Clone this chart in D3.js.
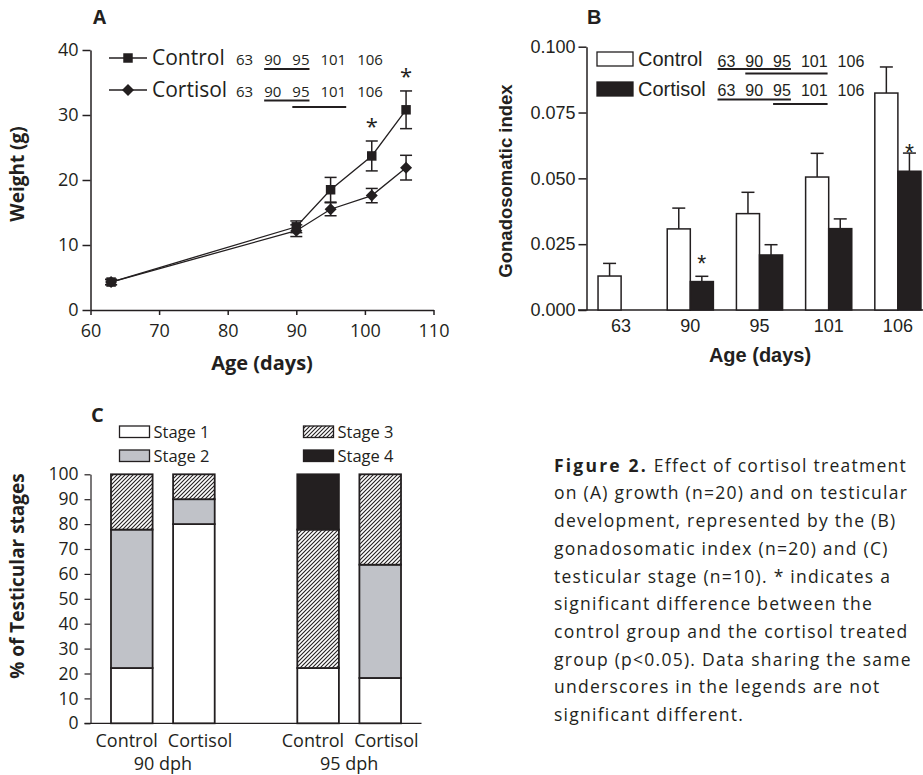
<!DOCTYPE html>
<html>
<head>
<meta charset="utf-8">
<script src="https://cdn.jsdelivr.net/npm/d3@7"></script>
<style>
  body { margin: 0; background: #fff; }
  svg text { fill: #231f20; }
  .fr { font-family: "Open Sans", sans-serif; }
  .ar { font-family: "Liberation Sans", Arial, sans-serif; }
</style>
</head>
<body>
<svg id="fig" width="923" height="775"></svg>
<script>
// ---- panel A: weight ----
var ages = [63, 90, 95, 101, 106];
var controlWeight = [4.3, 12.8, 18.5, 23.7, 30.8];
var controlWeightErr = [0.4, 0.9, 1.9, 2.3, 2.9];
var cortisolWeight = [4.3, 12.2, 15.5, 17.6, 21.9];
var cortisolWeightErr = [0.4, 0.9, 1.0, 1.1, 1.9];
var weightStars = [101, 106];
var weightTicksX = [60, 70, 80, 90, 100, 110];
var weightTicksY = [0, 10, 20, 30, 40];
// ages sharing an underline are not different
var weightLinesControl = [[90, 95]];
var weightLinesCortisol = [[90, 95], [95, 101]];

// ---- panel B: gonadosomatic index ----
var gsiControl = [0.0129, 0.0308, 0.0366, 0.0505, 0.0824];
var gsiControlErr = [0.0048, 0.0079, 0.0081, 0.0090, 0.0099];
var gsiCortisol = [0, 0.0108, 0.0209, 0.0309, 0.0527];
var gsiCortisolErr = [0, 0.0020, 0.0039, 0.0037, 0.0069];
var gsiStars = [90, 106];
var gsiTicks = [0, 0.025, 0.05, 0.075, 0.1];
var gsiLinesControl = [[63, 95], [90, 101]];
var gsiLinesCortisol = [[63, 95], [95, 101]];

// ---- panel C: testicular stages (%) ----
var stageBars = ["c90", "t90", "gap", "c95", "t95"];
var stageBarLabels = ["Control", "Cortisol", "", "Control", "Cortisol"];
var stageDays = ["90 dph", "95 dph"];
var stageNames = ["Stage 1", "Stage 2", "Stage 3", "Stage 4"];
var stage1 = [22.2, 80, 0, 22.2, 18.2];
var stage2 = [55.6, 10, 0, 0, 45.5];
var stage3 = [22.2, 10, 0, 55.6, 36.3];
var stage4 = [0, 0, 0, 22.2, 0];
var stageTicks = [0, 10, 20, 30, 40, 50, 60, 70, 80, 90, 100];

var captionLines = [
  "on (A) growth (n=20) and on testicular",
  "development, represented by the (B)",
  "gonadosomatic index (n=20) and (C)",
  "testicular stage (n=10). * indicates a",
  "significant difference between the",
  "control group and the cortisol treated",
  "group (p<0.05). Data sharing the same",
  "underscores in the legends are not",
  "significant different."
];

var ink = "#231f20";
var svg = d3.select("#fig");
var defs = svg.append("defs");
var hatch = defs.append("pattern")
    .attr("id", "hatch")
    .attr("patternUnits", "userSpaceOnUse")
    .attr("width", 4).attr("height", 4);
hatch.append("rect").attr("width", 4).attr("height", 4).attr("fill", "#fff");
hatch.append("path")
    .attr("d", "M-1,1l2,-2M0,4l4,-4M3,5l2,-2")
    .attr("stroke", ink).attr("stroke-width", 1.1);

function styleAxis(g, size, width) {
  g.attr("font-family", null).attr("font-size", null);
  g.selectAll(".domain, .tick line").attr("stroke", ink).attr("stroke-width", width);
  g.selectAll(".tick text").style("font-size", size + "px").attr("fill", ink);
}

// write a row of ages and underline the groups below it
function ageRow(g, x0, y, gap, size, groups, off, step) {
  var pos = {}, x = x0;
  ages.forEach(function(a) {
    var t = g.append("text").attr("x", x).attr("y", y)
        .style("font-size", size + "px").text(a);
    var w = t.node().getComputedTextLength();
    pos[a] = [x, x + w];
    x += w + gap;
  });
  groups.forEach(function(grp, i) {
    g.append("line")
      .attr("x1", pos[grp[0]][0]).attr("x2", pos[grp[1]][1])
      .attr("y1", y + off + i * step).attr("y2", y + off + i * step)
      .attr("stroke", ink).attr("stroke-width", 2);
  });
}

// ================= A =================
var gA = svg.append("g").attr("class", "fr");
var xA = d3.scaleLinear().domain([60, 110]).range([90.5, 433.5]);
var yA = d3.scaleLinear().domain([0, 40]).range([310, 50]);

gA.append("g").attr("transform", "translate(0,310)")
  .call(d3.axisBottom(xA).tickValues(weightTicksX).tickSize(5).tickSizeOuter(0).tickPadding(9))
  .call(styleAxis, 18, 1.5);
gA.append("g").attr("transform", "translate(90.5,0)")
  .call(d3.axisLeft(yA).tickValues(weightTicksY).tickSize(8).tickSizeOuter(0).tickPadding(4))
  .call(styleAxis, 18, 1.5);

gA.append("text").attr("x", 93).attr("y", 24)
  .style("font-size", "19px").style("font-weight", "bold").text("A");
gA.append("text").attr("x", 262).attr("y", 370).attr("text-anchor", "middle")
  .style("font-size", "20px").style("font-weight", "bold").text("Age (days)");
gA.append("text").attr("transform", "translate(24,174) rotate(-90)").attr("text-anchor", "middle")
  .style("font-size", "19px").style("font-weight", "bold").text("Weight (g)");

var weightSeries = [
  { name: "Control", values: controlWeight, err: controlWeightErr, shape: d3.symbolSquare, size: 90, rot: 0 },
  { name: "Cortisol", values: cortisolWeight, err: cortisolWeightErr, shape: d3.symbolSquare, size: 72, rot: 45 }
];
var lineA = d3.line().x(function(d) { return xA(d[0]); }).y(function(d) { return yA(d[1]); });

weightSeries.slice().reverse().forEach(function(s) {
  var pts = ages.map(function(a, i) { return [a, s.values[i], s.err[i]]; });
  var g = gA.append("g");
  g.append("path").attr("d", lineA(pts)).attr("fill", "none")
    .attr("stroke", ink).attr("stroke-width", 1.3);
  var eb = g.selectAll(".eb").data(pts).enter().append("g");
  eb.append("line")
    .attr("x1", function(d) { return xA(d[0]); }).attr("x2", function(d) { return xA(d[0]); })
    .attr("y1", function(d) { return yA(d[1] - d[2]); }).attr("y2", function(d) { return yA(d[1] + d[2]); })
    .attr("stroke", ink).attr("stroke-width", 1.5);
  [-1, 1].forEach(function(sg) {
    eb.append("line")
      .attr("x1", function(d) { return xA(d[0]) - 6; }).attr("x2", function(d) { return xA(d[0]) + 6; })
      .attr("y1", function(d) { return yA(d[1] + sg * d[2]); }).attr("y2", function(d) { return yA(d[1] + sg * d[2]); })
      .attr("stroke", ink).attr("stroke-width", 1.5);
  });
  g.selectAll(".mk").data(pts).enter().append("path")
    .attr("d", d3.symbol().type(s.shape).size(s.size))
    .attr("transform", function(d) { return "translate(" + xA(d[0]) + "," + yA(d[1]) + ") rotate(" + s.rot + ")"; })
    .attr("fill", ink);
});

gA.selectAll(".star").data(weightStars).enter().append("text")
  .attr("x", function(a) { return xA(a); })
  .attr("y", function(a) { var i = ages.indexOf(a); return yA(controlWeight[i] + controlWeightErr[i]) - 7; })
  .attr("text-anchor", "middle").style("font-size", "22px").text("*");

// legend A
weightSeries.forEach(function(s, i) {
  var y = 58 + i * 32;
  gA.append("line").attr("x1", 109).attr("x2", 147).attr("y1", y).attr("y2", y)
    .attr("stroke", ink).attr("stroke-width", 1.3);
  gA.append("path").attr("d", d3.symbol().type(s.shape).size(s.size))
    .attr("transform", "translate(128," + y + ") rotate(" + s.rot + ")").attr("fill", ink);
  gA.append("text").attr("x", 152).attr("y", y + 7).style("font-size", "21px").text(s.name);
});
ageRow(gA, 236, 65, 11, 15, weightLinesControl, 4, 6);
ageRow(gA, 236, 97, 11, 15, weightLinesCortisol, 3.5, 6.5);

// ================= B =================
var gB = svg.append("g").attr("class", "ar");
var xB = d3.scaleBand().domain(ages).range([586.5, 932.5]).paddingInner(0.333).paddingOuter(0.1667);
var sub = d3.scaleBand().domain(["Control", "Cortisol"]).range([0, xB.bandwidth()]);
var yB = d3.scaleLinear().domain([0, 0.1]).range([310, 46.7]);

var axB = gB.append("g").attr("transform", "translate(0,310)")
  .call(d3.axisBottom(xB).tickSize(0).tickPadding(9))
  .call(styleAxis, 18, 1.5);
axB.select(".domain").remove();
gB.append("line").attr("x1", 578).attr("x2", 923).attr("y1", 310).attr("y2", 310)
  .attr("stroke", ink).attr("stroke-width", 1.5);
gB.append("g").attr("transform", "translate(586.5,0)")
  .call(d3.axisLeft(yB).tickValues(gsiTicks).tickFormat(d3.format(".3f")).tickSize(8).tickSizeOuter(0).tickPadding(3))
  .call(styleAxis, 18, 1.5);

gB.append("text").attr("x", 587).attr("y", 24)
  .style("font-size", "20px").style("font-weight", "bold").text("B");
gB.append("text").attr("x", 760).attr("y", 362).attr("text-anchor", "middle")
  .style("font-size", "20px").style("font-weight", "bold").text("Age (days)");
gB.append("text").attr("transform", "translate(512,181) rotate(-90)").attr("text-anchor", "middle")
  .style("font-size", "18.5px").style("font-weight", "bold").text("Gonadosomatic index");

var gsiSeries = [
  { name: "Control", values: gsiControl, err: gsiControlErr, fill: "#fff" },
  { name: "Cortisol", values: gsiCortisol, err: gsiCortisolErr, fill: ink }
];
gsiSeries.forEach(function(s) {
  var pts = ages.map(function(a, i) { return { age: a, v: s.values[i], e: s.err[i] }; });
  var cx = function(d) { return xB(d.age) + sub(s.name) + sub.bandwidth() / 2; };
  var eb = gB.selectAll(".eb" + s.name).data(pts.filter(function(d) { return d.e > 0; })).enter().append("g");
  eb.append("line").attr("x1", cx).attr("x2", cx)
    .attr("y1", function(d) { return yB(d.v); }).attr("y2", function(d) { return yB(d.v + d.e); })
    .attr("stroke", ink).attr("stroke-width", 1.5);
  eb.append("line").attr("x1", function(d) { return cx(d) - 6.5; }).attr("x2", function(d) { return cx(d) + 6.5; })
    .attr("y1", function(d) { return yB(d.v + d.e); }).attr("y2", function(d) { return yB(d.v + d.e); })
    .attr("stroke", ink).attr("stroke-width", 1.5);
  gB.selectAll(".bar" + s.name).data(pts).enter().append("rect")
    .attr("x", function(d) { return xB(d.age) + sub(s.name); })
    .attr("width", sub.bandwidth())
    .attr("y", function(d) { return yB(d.v); })
    .attr("height", function(d) { return yB(0) - yB(d.v); })
    .attr("fill", s.fill).attr("stroke", ink)
    .attr("stroke-width", function(d) { return d.v > 0 ? 1.5 : 2.5; });
});
gB.selectAll(".star").data(gsiStars).enter().append("text")
  .attr("x", function(a) { return xB(a) + sub("Cortisol") + sub.bandwidth() / 2; })
  .attr("y", function(a) { return yB(gsiCortisol[ages.indexOf(a)]) - 10; })
  .attr("text-anchor", "middle").style("font-size", "23px").text("*");

// legend B
gsiSeries.forEach(function(s, i) {
  var y = 52 + i * 30;
  gB.append("rect").attr("x", 597).attr("y", y).attr("width", 36).attr("height", 14)
    .attr("fill", s.fill).attr("stroke", ink).attr("stroke-width", 1.3);
  gB.append("text").attr("x", 638).attr("y", y + 14).style("font-size", "20px").text(s.name);
});
ageRow(gB, 717.5, 66.5, 10, 16, gsiLinesControl, 2.5, 4.5);
ageRow(gB, 717.5, 95.5, 10, 16, gsiLinesCortisol, 4, 4.5);

// ================= C =================
var gC = svg.append("g").attr("class", "fr");
var xC = d3.scaleBand().domain(stageBars).range([90.5, 421.5]).paddingInner(0.33).paddingOuter(0.33);
var yC = d3.scaleLinear().domain([0, 100]).range([723.3, 474.3]);
var stageFill = { "Stage 1": "#fff", "Stage 2": "#c0c2c8", "Stage 3": "url(#hatch)", "Stage 4": ink };

var rows = stageBars.map(function(b, i) {
  return { bar: b, "Stage 1": stage1[i], "Stage 2": stage2[i], "Stage 3": stage3[i], "Stage 4": stage4[i] };
});
var stacked = d3.stack().keys(stageNames)(rows);

gC.append("g").attr("transform", "translate(90.5,0)")
  .call(d3.axisLeft(yC).tickValues(stageTicks).tickSize(6).tickSizeOuter(0).tickPadding(6))
  .call(styleAxis, 17.5, 1.2);
gC.append("line").attr("x1", 84.5).attr("x2", 421.5).attr("y1", 723.3).attr("y2", 723.3)
  .attr("stroke", ink).attr("stroke-width", 1.2);

stacked.forEach(function(layer) {
  gC.selectAll(".seg" + layer.index).data(layer).enter().append("rect")
    .attr("x", function(d) { return xC(d.data.bar); })
    .attr("width", xC.bandwidth())
    .attr("y", function(d) { return yC(d[1]); })
    .attr("height", function(d) { return yC(d[0]) - yC(d[1]); })
    .attr("fill", stageFill[layer.key])
    .attr("stroke", ink).attr("stroke-width", 1.8);
});

// bar labels
stageBars.forEach(function(b, i) {
  if (!stageBarLabels[i]) return;
  var pair = i < 2 ? [stageBars[0], stageBars[1]] : [stageBars[3], stageBars[4]];
  var mid = (xC(pair[0]) + xC(pair[1]) + xC.bandwidth()) / 2;
  var first = b === pair[0];
  gC.append("text").attr("x", first ? mid - 5 : mid + 5).attr("y", 747)
    .attr("text-anchor", first ? "end" : "start")
    .style("font-size", "18px").text(stageBarLabels[i]);
});
stageDays.forEach(function(d, k) {
  var a = k === 0 ? stageBars[0] : stageBars[3];
  var b = k === 0 ? stageBars[1] : stageBars[4];
  var mid = (xC(a) + xC(b) + xC.bandwidth()) / 2;
  gC.append("text").attr("x", mid).attr("y", 769.5).attr("text-anchor", "middle")
    .style("font-size", "18px").text(d);
});

gC.append("text").attr("x", 91).attr("y", 421.7)
  .style("font-size", "20px").style("font-weight", "bold").text("C");
gC.append("text").attr("transform", "translate(24,576) rotate(-90)").attr("text-anchor", "middle")
  .style("font-size", "19px").style("font-weight", "bold").text("% of Testicular stages");

// legend C
stageNames.forEach(function(name, i) {
  var x = i < 2 ? 119.5 : 303.5;
  var y = 426 + (i % 2) * 24;
  gC.append("rect").attr("x", x).attr("y", y).attr("width", 30).attr("height", 11.5)
    .attr("fill", stageFill[name]).attr("stroke", ink).attr("stroke-width", 1.3);
  gC.append("text").attr("x", x + 34).attr("y", y + 11.5).style("font-size", "16.5px").text(name);
});

// ================= caption =================
var cap = svg.append("g").attr("class", "fr").style("font-size", "17.5px");
var first = cap.append("text").attr("x", 554).attr("y", 471.7);
first.append("tspan").style("font-weight", "bold").style("letter-spacing", "2.2px").text("Figure 2.");
first.append("tspan").style("letter-spacing", "1.25px").text(" Effect of cortisol treatment");
captionLines.forEach(function(line, i) {
  cap.append("text").attr("x", 554).attr("y", 471.7 + (i + 1) * 27.7)
    .style("letter-spacing", "1.25px").text(line);
});
</script>
</body>
</html>
